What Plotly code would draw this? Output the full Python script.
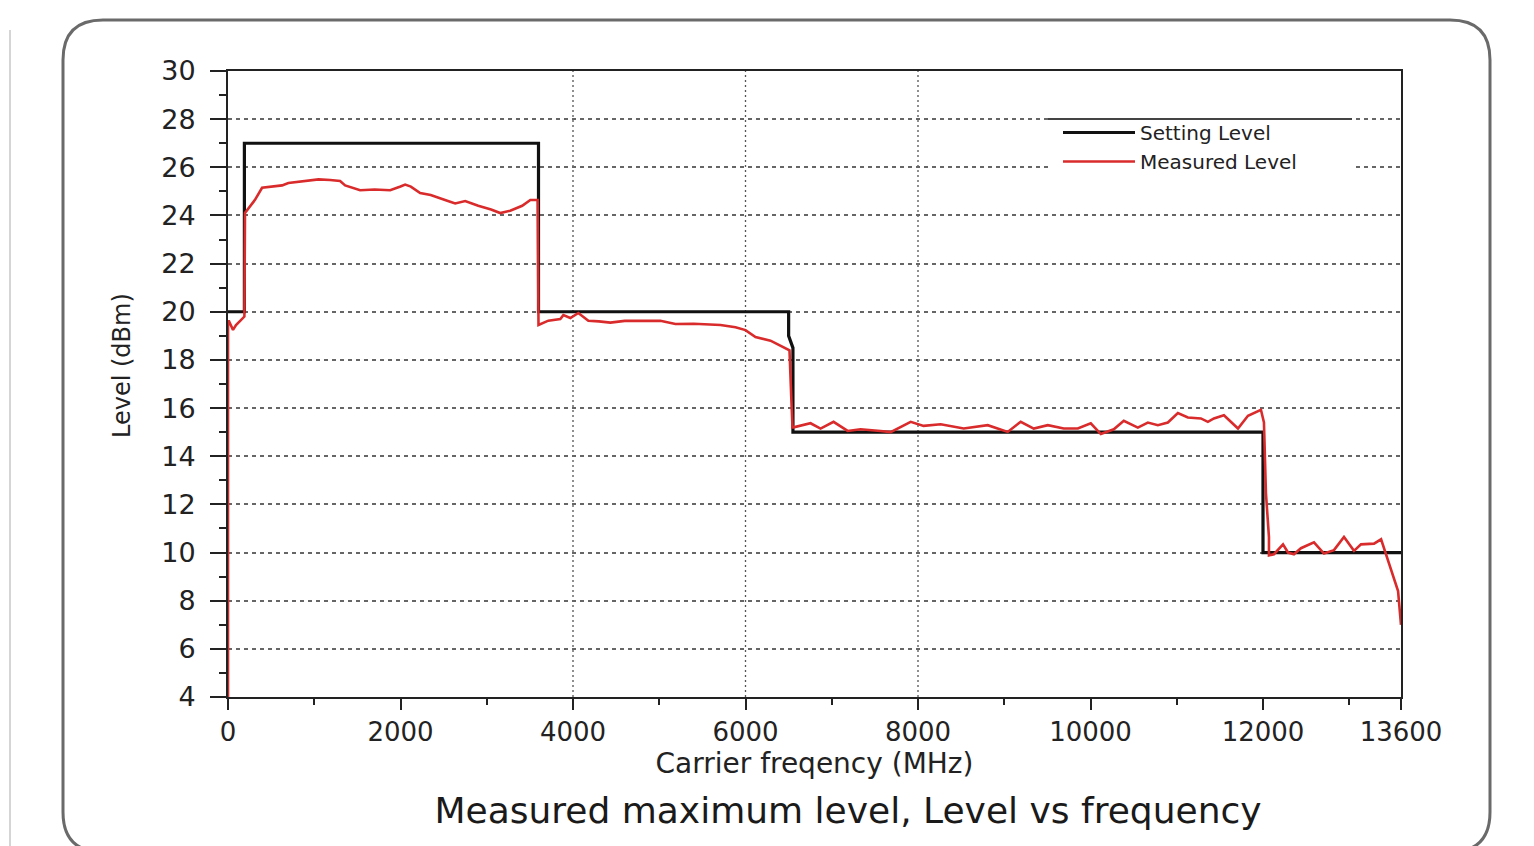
import plotly.graph_objects as go

# ---------------- data ----------------
setting_freq = [0, 190, 190, 3600, 3600, 6500, 6500, 6550, 6550, 12000, 12000, 13600]
setting_level = [20, 20, 27, 27, 20, 20, 19, 18.5, 15, 15, 10, 10]

measured_freq = [
    0, 0, 12, 58, 93, 139, 174, 190, 197, 255, 313, 395, 500, 627, 700, 836, 952, 1050,
    1184, 1300, 1358, 1450, 1532, 1700, 1880, 2000, 2054, 2120, 2228, 2350, 2460, 2550,
    2634, 2750, 2901, 3050, 3156, 3272, 3411, 3505, 3590, 3600,
    3714, 3853, 3888, 3969, 4062, 4178, 4300, 4433, 4600, 4781, 5013, 5187, 5400, 5710,
    5884, 6000, 6116, 6290, 6464, 6510, 6530, 6545,
    6557, 6754, 6870, 7021, 7184, 7334, 7566, 7683, 7915, 8065, 8263, 8530, 8808, 9040,
    9191, 9342, 9505, 9690, 9853, 10003, 10120, 10270, 10386, 10549, 10665, 10781, 10897,
    11013, 11129, 11280, 11361, 11431, 11547, 11710, 11826, 11976, 12011, 12034, 12069,
    12069, 12127, 12232, 12290, 12359, 12440, 12591, 12707, 12823, 12939, 13055, 13136,
    13287, 13369, 13427, 13508, 13566, 13600,
]
measured_level = [
    4.0, 19.6, 19.6, 19.25, 19.45, 19.6, 19.75, 19.8, 24.1, 24.4, 24.65, 25.15, 25.2, 25.25,
    25.35, 25.4, 25.47, 25.5, 25.47, 25.43, 25.25, 25.15, 25.05, 25.08, 25.05, 25.2, 25.28,
    25.2, 24.93, 24.85, 24.7, 24.6, 24.5, 24.6, 24.4, 24.25, 24.1, 24.2, 24.4, 24.64, 24.64,
    19.45,
    19.63, 19.7, 19.86, 19.74, 19.95, 19.63, 19.6, 19.55, 19.62, 19.63, 19.63, 19.49, 19.5,
    19.45, 19.36, 19.24, 18.95, 18.8, 18.5, 18.4, 16.5, 15.2,
    15.2, 15.37, 15.15, 15.43, 15.05, 15.12, 15.05, 15.0, 15.43, 15.26, 15.33, 15.15, 15.29,
    15.01, 15.43, 15.15, 15.29, 15.15, 15.15, 15.37, 14.92, 15.12, 15.47, 15.19, 15.4, 15.29,
    15.4, 15.79, 15.61, 15.57, 15.43, 15.57, 15.7, 15.15, 15.68, 15.93, 15.4, 12.47, 10.64,
    9.88, 9.93, 10.34, 10.0, 9.93, 10.18, 10.42, 9.96, 10.1, 10.65, 10.07, 10.34, 10.37,
    10.55, 9.93, 9.1, 8.4, 7.0,
]

x_tickvals = [0, 2000, 4000, 6000, 8000, 10000, 12000, 13600]
x_ticktext = ["0", "2000", "4000", "6000", "8000", "10000", "12000", "13600"]
x_minor_vals = [1000, 3000, 5000, 7000, 9000, 11000, 13000]
x_grid_vals = [4000, 6000, 8000]

# ---------------- layout geometry (reference page pixels) ----------------
OFF = 8                      # default body margin of the html page
W, H = 1534 - OFF, 846 - OFF
L, R, T, B = 228, 1401, 71, 697
PW, PH = R - L, B - T


def px(xp):
    return (xp - L) / PW


def py(yp):
    return (B - yp) / PH


FONT = "DejaVu Sans"

fig = go.Figure()
fig.add_trace(go.Scatter(
    x=setting_freq, y=setting_level, mode="lines", name="Setting Level",
    line=dict(color="#111111", width=3.2),
))
fig.add_trace(go.Scatter(
    x=measured_freq, y=measured_level, mode="lines", name="Measured Level",
    line=dict(color="#d92b2b", width=2.6),
))

shapes = []
for gv in x_grid_vals:
    shapes.append(dict(type="line", xref="x", yref="paper", x0=gv, x1=gv, y0=0, y1=1,
                       line=dict(color="#555555", width=1.3, dash="2px,3px"), layer="below"))
# legend box (white) with top border line
lx0, lx1, ly0, ly1 = 1048, 1352, 119, 174
shapes.append(dict(type="rect", xref="paper", yref="paper", x0=px(lx0), x1=px(lx1),
                   y0=py(ly1), y1=py(ly0), fillcolor="white", line=dict(width=0), layer="above"))
shapes.append(dict(type="line", xref="paper", yref="paper", x0=px(lx0), x1=px(lx1),
                   y0=py(ly0), y1=py(ly0), line=dict(color="#444444", width=2), layer="above"))

# rounded outer frame
fx0, fx1, fy0, fy1, rad = 63, 1490, 20, 852, 40
rx, ry = rad / PW, rad / PH
X0, X1, Y0, Y1 = px(fx0), px(fx1), py(fy1), py(fy0)
path = (f"M {X0+rx},{Y1} L {X1-rx},{Y1} Q {X1},{Y1} {X1},{Y1-ry} "
        f"L {X1},{Y0+ry} Q {X1},{Y0} {X1-rx},{Y0} L {X0+rx},{Y0} Q {X0},{Y0} {X0},{Y0+ry} "
        f"L {X0},{Y1-ry} Q {X0},{Y1} {X0+rx},{Y1} Z")
shapes.append(dict(type="path", xref="paper", yref="paper", path=path,
                   line=dict(color="#6a6a6a", width=3), fillcolor="rgba(0,0,0,0)", layer="above"))
shapes.append(dict(type="line", xref="paper", yref="paper", x0=px(10), x1=px(10),
                   y0=py(846), y1=py(30), line=dict(color="#d5d5d5", width=2), layer="above"))

fig.update_layout(
    width=W, height=H,
    margin=dict(l=L - OFF, r=W - (R - OFF), t=T - OFF, b=H - (B - OFF), autoexpand=False),
    paper_bgcolor="white", plot_bgcolor="white",
    font=dict(family=FONT, color="#222222"),
    shapes=shapes,
    showlegend=True,
    legend=dict(
        x=px(1058), y=py(113), xanchor="left", yanchor="top",
        bgcolor="rgba(255,255,255,0)", borderwidth=0,
        font=dict(family=FONT, size=20, color="#222222"),
        itemwidth=72, tracegroupgap=0,
    ),
    title=dict(
        text="Measured maximum level, Level vs frequency",
        x=(848 - OFF) / W, xanchor="center", xref="container",
        y=1 - (810 - OFF) / H, yanchor="middle", yref="container",
        font=dict(family=FONT, size=36, color="#1a1a1a"),
    ),
    annotations=[dict(
        text="Level (dBm)", textangle=-90, xref="paper", yref="paper",
        x=px(122), y=py(366), xanchor="center", yanchor="middle", showarrow=False,
        font=dict(family=FONT, size=24, color="#222222"),
    )],
)

fig.update_xaxes(
    range=[0, 13600], tickmode="array", tickvals=x_tickvals, ticktext=x_ticktext,
    showgrid=False, zeroline=False,
    showline=True, linecolor="#222222", linewidth=2, mirror=True,
    ticks="outside", ticklen=11, tickwidth=2, tickcolor="#222222",
    ticklabelstandoff=0,
    tickfont=dict(family=FONT, size=26, color="#222222"),
    minor=dict(tickmode="array", tickvals=x_minor_vals, ticks="outside", ticklen=6,
               tickwidth=2, tickcolor="#222222", showgrid=False),
    title=dict(text="Carrier freqency (MHz)", standoff=0,
               font=dict(family=FONT, size=28, color="#222222")),
)
fig.update_yaxes(
    range=[4, 30], tickmode="linear", tick0=4, dtick=2,
    showgrid=True, gridcolor="#666666", gridwidth=1.5, griddash="4px,4px",
    zeroline=False,
    showline=True, linecolor="#222222", linewidth=2, mirror=True,
    ticks="outside", ticklen=16, tickwidth=2, tickcolor="#222222",
    ticklabelstandoff=9,
    tickfont=dict(family=FONT, size=27, color="#222222"),
    minor=dict(dtick=1, ticks="outside", ticklen=7, tickwidth=2, tickcolor="#222222",
               showgrid=False),
)

fig.write_html("out.html")
